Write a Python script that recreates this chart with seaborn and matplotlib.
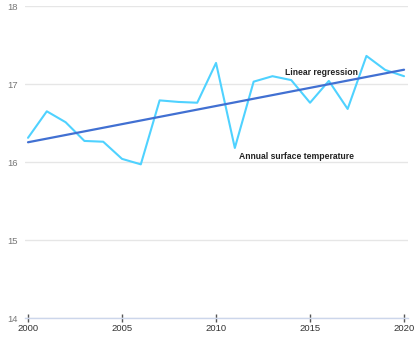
import matplotlib
matplotlib.use("Agg")
import matplotlib.pyplot as plt
import seaborn as sns
import pandas as pd

years = list(range(2000, 2021))
temps = [16.31, 16.65, 16.51, 16.27, 16.26, 16.04, 15.97, 16.79, 16.77, 16.76,
         17.27, 16.18, 17.03, 17.10, 17.05, 16.76, 17.04, 16.68, 17.36, 17.18, 17.10]
x_ticks = [2000, 2005, 2010, 2015, 2020]
y_ticks = [14, 15, 16, 17, 18]

df = pd.DataFrame({"year": years, "temp": temps})

sns.set_theme(style="white")
plt.rcParams['font.family'] = ['Liberation Sans', 'DejaVu Sans']

fig = plt.figure(figsize=(4.2, 3.52), dpi=100)
ax = fig.add_axes([25/420, 1 - 318/352, (408-25)/420, (318-6)/352])

sns.lineplot(data=df, x="year", y="temp", ax=ax, color="#4fd2ff", linewidth=1.5)
sns.regplot(data=df, x="year", y="temp", ax=ax, scatter=False, ci=None,
            color="#4170d2", line_kws={"linewidth": 1.6})

ax.set_xlim(1999.84, 2020.21)
ax.set_ylim(14, 18)
ax.set_xticks(x_ticks)
ax.set_yticks(y_ticks)
ax.set_xlabel("")
ax.set_ylabel("")
for s in ["top", "right", "left"]:
    ax.spines[s].set_visible(False)
ax.spines["bottom"].set_color("#ccd6eb")
ax.spines["bottom"].set_linewidth(1)
ax.yaxis.grid(True, color="#e6e6e6", linewidth=1)
ax.set_axisbelow(True)
ax.tick_params(axis="x", which="major", length=6, width=1, color="#555555",
               direction="inout", bottom=True,
               labelsize=6.8, labelcolor="#333333", pad=1.5)
ax.tick_params(axis="y", length=0, labelsize=6.8, labelcolor="#777777")
for lbl in ax.get_yticklabels():
    lbl.set_horizontalalignment("left")
ax.yaxis.set_tick_params(pad=13)

ax.text(2013.65, 17.15, "Linear regression", fontsize=6.2, fontweight="bold",
        color="#222222", va="center", ha="left")
ax.text(2011.2, 16.07, "Annual surface temperature", fontsize=6.2, fontweight="bold",
        color="#222222", va="center", ha="left")

fig.savefig("out.png", dpi=100)
